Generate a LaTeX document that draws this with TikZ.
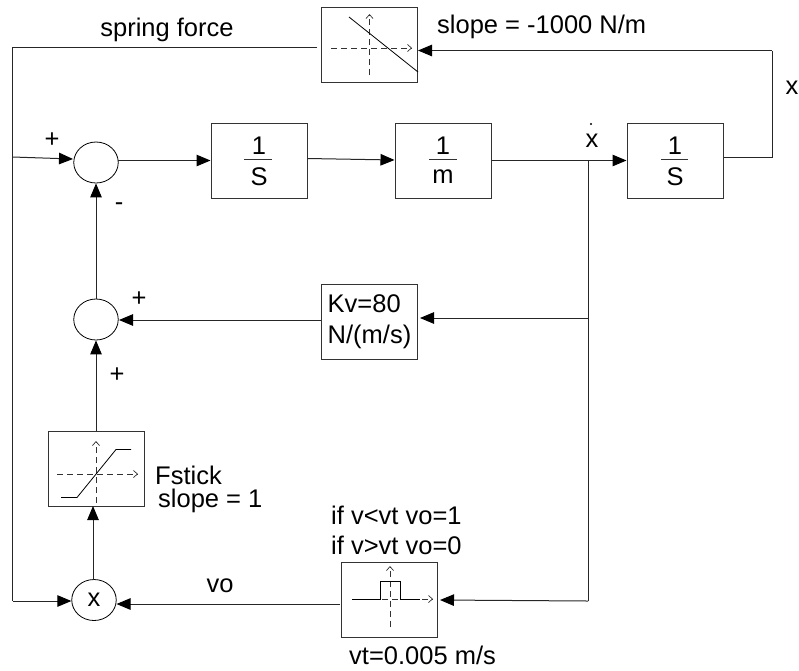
\documentclass[tikz,border=0pt]{standalone}
\usepackage{fontspec}
\setmainfont{Liberation Sans}
\usetikzlibrary{arrows.meta,shapes.geometric,calc}
\tikzset{
  blockbox/.style={draw=black!80,line width=1pt,rectangle,inner sep=0pt,minimum width=96pt,minimum height=75pt},
  sumnode/.style={draw=black,line width=0.8pt,ellipse,inner sep=0pt,minimum width=44.5pt,minimum height=41pt},
  wire/.style={line width=1pt,black!85},
  arrowwire/.style={wire,-{Triangle[length=14pt,width=11.5pt,color=black]}},
  lbl/.style={inner sep=0pt,font=\fontsize{25.5pt}{31pt}\selectfont},
  lbll/.style={lbl,anchor=west},
  axisdash/.style={line width=0.7pt,dashed,dash pattern=on 6pt off 4pt,black!80,-{Straight Barb[length=4pt,width=7pt]}},
  curve/.style={line width=0.8pt,black},
  barline/.style={line width=1pt,black!80}
}
\begin{document}
\begin{tikzpicture}[x=1pt,y=-1pt]
\useasboundingbox (0,0) rectangle (799,670);
% blocks
\node[blockbox] (spring) at (369,45) {};
\node[blockbox] (int1) at (259,160.5) {};
\node[blockbox] (mass) at (443,161) {};
\node[blockbox] (int2) at (675,160.5) {};
\node[blockbox,lbl,align=left] (kv) at (369.5,321.5) {Kv=80\\N/(m/s)};
\node[blockbox] (stick) at (96,468.5) {};
\node[blockbox] (pulse) at (389.5,599.5) {};
\node[sumnode] (sumtop) at (96,162.5) {};
\node[sumnode] (summid) at (96,319.5) {};
\node[sumnode,lbl] (mult) at (94,600) {x};
% fractions
\node[lbl] (i1n) at (259,146) {1};
\node[lbl] (i1d) at (259,176.5) {S};
\draw[barline] (244,159) -- (272,159);
\node[lbl] (mn) at (443,146) {1};
\node[lbl] (md) at (443,176.5) {m};
\draw[barline] (429,159) -- (457,159);
\node[lbl] (i2n) at (675,146) {1};
\node[lbl] (i2d) at (675,176.5) {S};
\draw[barline] (661,159) -- (688,159);
% junctions
\coordinate (xj) at (588,160.5);
\coordinate (kvj) at (588,318);
\coordinate (pj) at (588,601);
\coordinate (fl) at (12.5,47);
\coordinate (fm) at (12.5,157);
\coordinate (fb) at (12.5,601);
\coordinate (xr) at (772,157);
\coordinate (xt) at (772,50.5);
% connectors
\draw[wire] (317,47) -- (fl) -- (fb);
\draw[arrowwire] (fb) -- (mult.west |- fb);
\draw[arrowwire] (fm) -- (73,159);
\draw[wire] (int2.east |- xr) -- (xr) -- (xt);
\draw[arrowwire] (xt) -- (418,50.5);
\draw[arrowwire] (118,160.5) -- (int1.west |- 0,160.5);
\draw[arrowwire] (int1.east |- 0,158.5) -- (mass.west |- 0,160);
\draw[arrowwire] (mass.east |- xj) -- (int2.west |- xj);
\draw[wire] (xj) -- (pj);
\draw[arrowwire] (kvj) -- (420,318);
\draw[arrowwire] (pj) -- (440,600);
\draw[arrowwire] (kv.west |- 0,320) -- (119,320);
\draw[arrowwire] (summid.north) -- (sumtop.south);
\draw[arrowwire] (stick.north) -- (summid.south);
\draw[arrowwire] (93,580) -- (93,506);
\draw[arrowwire] (340,604) -- (116.5,604);
% graph inside spring box
\draw[axisdash] (331,48) -- (412,48);
\draw[axisdash] (369.5,75) -- (369.5,14);
\draw[curve] (349,17) -- (418,72);
% graph inside stick box
\draw[axisdash] (57,474) -- (138,474);
\draw[axisdash] (96,503) -- (96,441);
\draw[curve] (61,497.5) -- (77,497.5) -- (116,449.5) -- (131,449.5);
% graph inside pulse box
\draw[axisdash] (352,599) -- (433,599);
\draw[axisdash] (390,627) -- (390,566);
\draw[curve] (352,599) -- (380,599) -- (380,581) -- (400,581) -- (400,599) -- (420,599);
% labels
\node[lbl] (t1) at (167,30) {spring force};
\node[lbll] (t2) at (437,27) {slope = -1000 N/m};
\node[lbl] (t3) at (792,88) {x};
\node[lbl] (t4) at (592,141) {x};
\fill (591,124) circle (1.2pt);
\node[lbl] (t5) at (52,140) {+};
\node[lbl] (t6) at (119,207) {-};
\node[lbl] (t7) at (139,299) {+};
\node[lbl] (t8) at (117,375) {+};
\node[lbll] (t9) at (155,475) {Fstick};
\node[lbll] (t10) at (158,501) {slope = 1};
\node[lbl] (t11) at (220,586) {vo};
\node[lbll] (t12) at (331,515) {if v<vt vo=1};
\node[lbll] (t13) at (331,545) {if v>vt vo=0};
\node[lbll] (t14) at (349,655) {vt=0.005 m/s};
\end{tikzpicture}
\end{document}
